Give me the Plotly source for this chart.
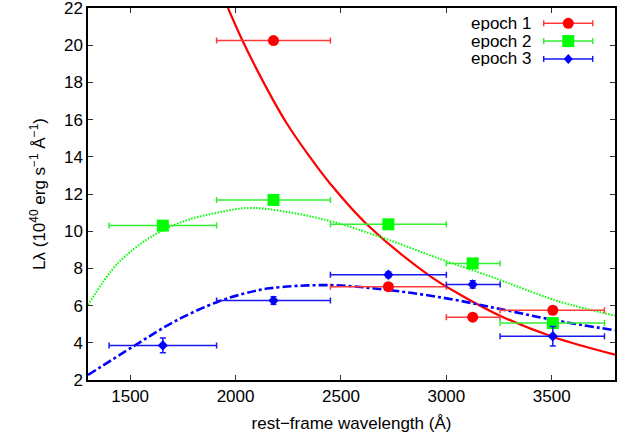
import plotly.graph_objects as go

# Band centres and bandwidths (rest frame, Angstrom)
wave_all = [1655, 2180, 2725, 3125, 3505]
wave_lo = [1400, 1910, 2450, 3000, 3255]
wave_hi = [1910, 2450, 3000, 3255, 3750]

# Luminosity density, 1e40 erg/s/A
epoch1_wave = [2180, 2725, 3125, 3505]
epoch1_lum = [20.25, 7.02, 5.38, 5.75]
epoch1_lo = [1910, 2450, 3000, 3255]
epoch1_hi = [2450, 3000, 3255, 3750]

epoch2_lum = [10.3, 11.68, 10.37, 8.27, 5.06]
epoch3_lum = [3.86, 6.27, 7.66, 7.14, 4.35]
epoch3_err = [0.4, 0.2, 0.15, 0.2, 0.52]

# Model curves
fit1_wave = [1964, 2035, 2146, 2241, 2360, 2447, 2621, 2921, 3064, 3254, 3507, 3800]
fit1_lum = [22.0, 20.2, 17.72, 15.83, 13.87, 12.58, 10.39, 7.6, 6.6, 5.46, 4.31, 3.36]
fit2_wave = [1300, 1441, 1600, 1758, 1916, 2060, 2209, 2447, 2700, 2984, 3206, 3317, 3538, 3800]
fit2_lum = [6.03, 8.27, 9.70, 10.55, 11.0, 11.25, 11.1, 10.55, 9.64, 8.45, 7.58, 7.11, 6.21, 5.46]
fit3_wave = [1300, 1521, 1711, 1916, 2043, 2162, 2447, 2723, 3001, 3254, 3507, 3800]
fit3_lum = [2.27, 3.85, 5.15, 6.21, 6.65, 6.93, 7.1, 6.84, 6.39, 5.82, 5.23, 4.67]

x_ticks = [1500, 2000, 2500, 3000, 3500]
y_ticks = list(range(2, 23, 2))
legend_labels = ["epoch 1", "epoch 2", "epoch 3"]

RED, GREEN, BLUE = "#ff0000", "#00ff00", "#0000ff"
RED_E, GREEN_E, BLUE_E = "#ff3a3a", "#33f033", "#1818f0"
FONT = "Liberation Sans, Arial, sans-serif"

fig = go.Figure()

fig.add_trace(go.Scatter(x=fit1_wave, y=fit1_lum, mode="lines",
                         line=dict(color=RED, width=2.2, shape="spline", smoothing=1.0),
                         showlegend=False, hoverinfo="skip"))
fig.add_trace(go.Scatter(x=fit2_wave, y=fit2_lum, mode="lines",
                         line=dict(color=GREEN, width=2, dash="1.5px,1.5px", shape="spline",
                                   smoothing=1.0),
                         showlegend=False, hoverinfo="skip"))
fig.add_trace(go.Scatter(x=fit3_wave, y=fit3_lum, mode="lines",
                         line=dict(color=BLUE, width=2.6, dash="dashdot", shape="spline",
                                   smoothing=1.0),
                         showlegend=False, hoverinfo="skip"))


def xerr(centres, lo, hi, color):
    return dict(type="data", symmetric=False,
                array=[h - c for c, h in zip(centres, hi)],
                arrayminus=[c - l for c, l in zip(centres, lo)],
                color=color, thickness=1.5, width=3)


fig.add_trace(go.Scatter(x=epoch1_wave, y=epoch1_lum, mode="markers",
                         marker=dict(symbol="circle", size=11, color=RED),
                         error_x=xerr(epoch1_wave, epoch1_lo, epoch1_hi, RED_E),
                         showlegend=False))
fig.add_trace(go.Scatter(x=wave_all, y=epoch2_lum, mode="markers",
                         marker=dict(symbol="square", size=12, color=GREEN),
                         error_x=xerr(wave_all, wave_lo, wave_hi, GREEN_E),
                         showlegend=False))
fig.add_trace(go.Scatter(x=wave_all, y=epoch3_lum, mode="markers",
                         marker=dict(symbol="diamond", size=8, color=BLUE),
                         error_x=xerr(wave_all, wave_lo, wave_hi, BLUE_E),
                         error_y=dict(type="data", array=epoch3_err, color=BLUE_E,
                                      thickness=1.5, width=3),
                         showlegend=False))

# Key in the upper right corner: label, sample bar with caps and symbol
L, R, T, B, W, H = 88, 14, 8, 62, 629, 442
PW, PH = W - L - R, H - T - B


def px(xp):
    return (xp - L) / PW


def py(yp):
    return (H - B - yp) / PH


shapes = []
annotations = []
rows = [23.3, 41.1, 58.9]
line_x0, line_x1, mark_x = 543.7, 592.7, 568.3
colors = [(RED, RED_E), (GREEN, GREEN_E), (BLUE, BLUE_E)]
for i, (label, yrow, (mc, ec)) in enumerate(zip(legend_labels, rows, colors)):
    yy = py(yrow)
    annotations.append(dict(text=label, x=px(533), y=yy, xref="paper", yref="paper",
                            xanchor="right", yanchor="middle", showarrow=False,
                            height=15, borderpad=0,
                            font=dict(family=FONT, size=17, color="#000000")))
    shapes.append(dict(type="line", xref="paper", yref="paper", x0=px(line_x0), x1=px(line_x1),
                       y0=yy, y1=yy, line=dict(color=ec, width=1.5)))
    for xe in (line_x0, line_x1):
        shapes.append(dict(type="line", xref="paper", yref="paper",
                           ysizemode="pixel", yanchor=yy, x0=px(xe), x1=px(xe), y0=-3, y1=3,
                           line=dict(color=ec, width=1.5)))
    common = dict(xref="paper", yref="paper", xsizemode="pixel", ysizemode="pixel",
                  xanchor=px(mark_x), yanchor=yy, fillcolor=mc, line=dict(color=mc, width=0))
    if i == 0:
        shapes.append(dict(type="circle", x0=-5.5, x1=5.5, y0=-5.5, y1=5.5, **common))
    elif i == 1:
        shapes.append(dict(type="rect", x0=-6, x1=6, y0=-6, y1=6, **common))
    else:
        shapes.append(dict(type="path", path="M 0 5 L 4.5 0 L 0 -5 L -4.5 0 Z", **common))

axis_common = dict(showgrid=False, zeroline=False, showline=True, linecolor="#000000",
                   linewidth=1.5, mirror="ticks", ticks="inside", ticklen=5, tickwidth=1,
                   tickcolor="#333333", automargin=False, ticklabeloverflow="allow",
                   tickfont=dict(family=FONT, size=17, color="#000000"))

fig.update_layout(
    width=W, height=H,
    margin=dict(l=L, r=R, t=T, b=B),
    paper_bgcolor="white", plot_bgcolor="white",
    xaxis=dict(range=[1300, 3800], tickvals=x_ticks, ticktext=[str(v) for v in x_ticks],
               title=dict(text="rest\u2212frame wavelength (\u00c5)", standoff=12,
                          font=dict(family=FONT, size=17, color="#000000")),
               **axis_common),
    yaxis=dict(range=[2, 22], tickvals=y_ticks, ticktext=[str(v) for v in y_ticks],
               title=dict(text="L\u03bb (10<sup>40</sup> erg s<sup>\u22121</sup> \u00c5<sup>\u22121</sup>)",
                          standoff=14, font=dict(family=FONT, size=17, color="#000000")),
               **axis_common),
    shapes=shapes, annotations=annotations,
    showlegend=False,
)

fig.write_html("out.html")
